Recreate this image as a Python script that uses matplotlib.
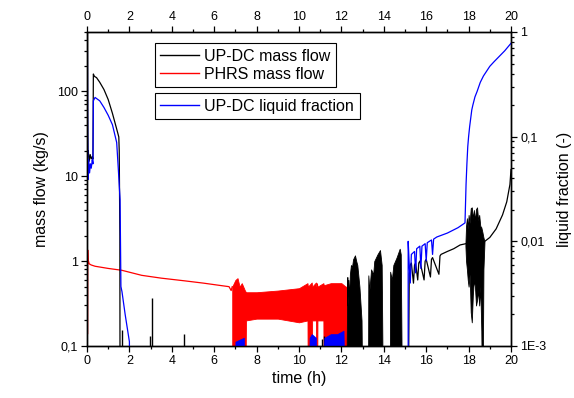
import numpy as np
import matplotlib
matplotlib.use("Agg")
import matplotlib.pyplot as plt
from matplotlib.ticker import LogLocator, NullFormatter, FixedLocator, MultipleLocator

plt.rcParams['font.family'] = ['Liberation Sans', 'DejaVu Sans']

FLOOR = 0.01      # below the left axis limit (values shown as "zero")
FLOOR_R = 1e-4    # below the right axis limit

# UP-DC mass flow (kg/s), main line
updc_t = [0.025, 0.03, 0.045, 0.06, 0.1, 0.15, 0.2, 0.25, 0.28, 0.3, 0.35, 0.45, 0.6, 0.8,
          1.0, 1.2, 1.4, 1.5, 1.52, 1.55, 1.56, 15.15, 15.2, 15.25, 15.3, 15.4, 15.45, 15.5,
          15.6, 15.65, 15.7, 15.9, 15.95, 16.0, 16.2, 16.25, 16.3, 16.6, 16.65, 16.7, 17.0,
          17.3, 17.6, 17.85]
updc_m = [500, 60, 17, 20, 15, 18, 16, 17, 16, 160, 150, 145, 128, 105,
          80, 55, 36, 29, 20, 2, FLOOR, FLOOR, 0.7, 0.9, 0.95, 0.55, 0.9, 0.95,
          0.6, 0.95, 1.0, 0.6, 1.0, 1.05, 0.65, 1.05, 1.1, 0.7, 1.15, 1.2, 1.3,
          1.4, 1.55, 1.6]

# UP-DC mass flow, after the last oscillation
updc_t2 = [18.75, 19.0, 19.3, 19.6, 19.8, 19.95, 20.0]
updc_m2 = [1.7, 1.9, 2.4, 3.5, 5.0, 8.0, 12.0]

# isolated UP-DC spikes
spike_t = [1.64, 2.98, 3.07, 4.58, 11.1, 11.2]
spike_m = [0.155, 0.13, 0.37, 0.14, 0.12, 0.13]

# UP-DC oscillating bursts (envelopes)
burst_t = [12.25, 12.28, 12.3, 12.33, 12.36, 12.4, 12.45, 12.5, 12.55, 12.64, 12.7, 12.75,
           12.85, 12.95, 13.0,
           13.25, 13.27, 13.32, 13.4, 13.5, 13.55, 13.7, 13.82, 13.9, 13.97,
           14.28, 14.3, 14.38, 14.45, 14.6, 14.75, 14.8, 14.87]
burst_hi = [0.1, 0.65, 0.3, 0.6, 0.35, 0.7, 0.9, 0.85, 1.05, 1.17, 1.0, 0.9,
            0.5, 0.2, FLOOR,
            FLOOR, 0.68, 0.45, 0.8, 0.7, 1.0, 1.2, 1.35, 0.9, FLOOR,
            FLOOR, 0.75, 0.6, 0.9, 1.1, 1.4, 1.2, FLOOR]

osc_t = [17.85, 17.88, 17.92, 17.96, 18.0, 18.05, 18.1, 18.15, 18.2, 18.25, 18.3, 18.35,
         18.4, 18.45, 18.5, 18.55, 18.6, 18.65, 18.7, 18.75]
osc_hi = [1.6, 2.6, 3.2, 2.4, 3.5, 2.8, 4.2, 4.3, 3.2, 4.0, 3.0, 4.1,
          4.3, 3.0, 3.5, 2.6, 2.5, 2.2, 1.9, 1.7]
osc_lo = [1.5, 1.0, 0.8, 0.6, 0.5, 0.7, 0.25, 0.19, 0.4, 0.6, 0.5, 0.3,
          0.35, 0.45, 0.3, 0.5, 0.15, FLOOR, 0.8, 1.7]

# PHRS mass flow (kg/s)
phrs_t = [0.03, 0.035, 0.05, 0.07, 0.1, 0.2, 0.38, 1.0, 1.64, 2.58, 3.5, 4.62, 5.5,
          6.2, 6.7, 6.8, 6.85]
phrs_m = [0.14, 1.35, 0.95, 1.0, 0.93, 0.9, 0.87, 0.82, 0.78, 0.68, 0.63, 0.585, 0.55,
          0.52, 0.5, 0.45, 0.5]

# PHRS oscillating band (envelopes)
band_t = [6.85, 7.0, 7.1, 7.2, 7.3, 7.45, 7.5, 8.0, 9.0, 10.0, 10.4, 10.42, 10.6, 10.62,
          10.8, 10.82, 10.85, 10.87, 11.15, 11.17, 11.5, 12.0, 12.2, 12.25]
band_hi = [0.5, 0.6, 0.63, 0.5, 0.55, 0.45, 0.43, 0.43, 0.45, 0.48, 0.55, 0.5, 0.56, 0.5,
           0.56, 0.5, 0.55, 0.5, 0.55, 0.52, 0.55, 0.55, 0.5, 0.5]
band_lo = [FLOOR, FLOOR, FLOOR, FLOOR, FLOOR, FLOOR, 0.2, 0.21, 0.21, 0.19, 0.2, FLOOR, FLOOR, 0.2,
           0.2, FLOOR, FLOOR, 0.2, 0.2, FLOOR, FLOOR, FLOOR, FLOOR, FLOOR]

# UP-DC liquid fraction (-)
frac_t = [0.02, 0.03, 0.05, 0.08, 0.12, 0.16, 0.2, 0.25, 0.28, 0.3, 0.38, 0.6, 0.8, 1.0,
          1.2, 1.4, 1.48, 1.56, 1.6, 1.65, 1.8, 2.0, 2.03, 15.15, 15.15, 15.2, 15.25,
          15.3, 15.45, 15.5, 15.55, 15.7, 15.75, 15.8, 15.95, 16.0, 16.05, 16.25, 16.3,
          16.35, 16.5, 17.0, 17.5, 17.83, 17.86, 17.88, 17.92, 17.96, 18.0, 18.05, 18.1,
          18.15, 18.2, 18.3, 18.4, 18.55, 18.7, 19.0, 19.2, 19.5, 19.7, 20.0]
frac_v = [0.66, 0.1, 0.039, 0.06, 0.045, 0.055, 0.05, 0.06, 0.055, 0.22, 0.237, 0.22, 0.19, 0.16,
          0.13, 0.088, 0.048, 0.025, 0.0037, 0.0033, 0.002, 0.0011, FLOOR_R, FLOOR_R, 0.01, 0.006, 0.004,
          0.0075, 0.008, 0.005, 0.0085, 0.009, 0.0055, 0.009, 0.0095, 0.0065, 0.0097, 0.0103, 0.0075,
          0.0105, 0.011, 0.012, 0.0135, 0.015, 0.025, 0.035, 0.055, 0.08, 0.1, 0.125, 0.15,
          0.18, 0.2, 0.24, 0.27, 0.33, 0.38, 0.47, 0.52, 0.6, 0.66, 0.78]

# small liquid fraction blips during PHRS oscillation
blip_t = [6.95, 7.0, 7.2, 7.4, 7.5, 10.4, 10.5, 10.6, 10.8, 10.85, 11.2, 11.5, 11.8, 12.1, 12.2]
blip_v = [FLOOR_R, 0.0011, 0.00115, 0.0012, FLOOR_R, FLOOR_R, 0.0012, 0.0013, 0.0012, FLOOR_R,
          0.0012, 0.0013, 0.0013, 0.0014, FLOOR_R]

left_ticks = [0.1, 1, 10, 100]
left_labels = ['0,1', '1', '10', '100']
right_ticks = [1e-3, 1e-2, 0.1, 1]
right_labels = ['1E-3', '0,01', '0,1', '1']

fig = plt.figure(figsize=(5.74, 3.98), dpi=100)
ax = fig.add_axes([87 / 574, 1 - 346 / 398, 424 / 574, 314 / 398])
ax2 = ax.twinx()

# mass flows
ax.plot(phrs_t, phrs_m, color='red', lw=0.9)
ax.fill_between(band_t, band_lo, band_hi, color='red', lw=0.6)
ax.plot(updc_t, updc_m, color='black', lw=0.9)
ax.plot(updc_t2, updc_m2, color='black', lw=0.9)
ax.vlines(spike_t, FLOOR, spike_m, color='black', lw=1.0)
ax.fill_between(burst_t, FLOOR, burst_hi, color='black', lw=0.6)
ax.fill_between(osc_t, osc_lo, osc_hi, color='black', lw=0.6)

# liquid fraction
ax2.plot(frac_t, frac_v, color='blue', lw=0.9)
ax2.fill_between(blip_t, FLOOR_R, blip_v, color='blue', lw=0.5)

ax.set_yscale('log')
ax2.set_yscale('log')
ax.set_xlim(0, 20)
ax.set_ylim(0.1, 500)
ax2.set_ylim(1e-3, 1)

ax.xaxis.set_major_locator(MultipleLocator(2))
ax.xaxis.set_minor_locator(MultipleLocator(1))
ax.yaxis.set_major_locator(FixedLocator(left_ticks))
ax.set_yticklabels(left_labels)
ax.yaxis.set_minor_locator(LogLocator(subs=range(2, 10), numticks=20))
ax.yaxis.set_minor_formatter(NullFormatter())
ax2.yaxis.set_major_locator(FixedLocator(right_ticks))
ax2.set_yticklabels(right_labels)
ax2.yaxis.set_minor_locator(LogLocator(subs=range(2, 10), numticks=20))
ax2.yaxis.set_minor_formatter(NullFormatter())

ax.tick_params(which='both', direction='out', top=True, labeltop=True, width=0.9,
               labelsize=9, colors='black', pad=2)
ax.tick_params(which='major', length=4.5)
ax.tick_params(which='minor', length=2.5)
ax2.tick_params(which='both', direction='out', width=0.9, labelsize=9, pad=2)
ax2.tick_params(which='major', length=4.5)
ax2.tick_params(which='minor', length=2.5)
for a in (ax, ax2):
    for s in a.spines.values():
        s.set_linewidth(1.0)

ax.set_xlabel('time (h)', fontsize=11.5, labelpad=3)
ax.set_ylabel('mass flow (kg/s)', fontsize=11.5, labelpad=6)
ax2.set_ylabel('liquid fraction (-)', fontsize=11.5, labelpad=8)

h1 = ax.plot([], [], color='black', lw=1.0, label='UP-DC mass flow')[0]
h2 = ax.plot([], [], color='red', lw=1.0, label='PHRS mass flow')[0]
h3 = ax2.plot([], [], color='blue', lw=1.0, label='UP-DC liquid fraction')[0]

leg1 = ax2.legend(handles=[h1, h2], loc='upper left', bbox_to_anchor=(0.160, 0.965),
                  borderaxespad=0, fontsize=11.5, frameon=True, fancybox=False,
                  edgecolor='black', framealpha=1, handlelength=2.4, handletextpad=0.35,
                  borderpad=0.35, labelspacing=0.2)
leg1.get_frame().set_linewidth(0.8)
ax2.add_artist(leg1)
leg2 = ax2.legend(handles=[h3], loc='upper left', bbox_to_anchor=(0.160, 0.806),
                  borderaxespad=0, fontsize=11.5, frameon=True, fancybox=False,
                  edgecolor='black', framealpha=1, handlelength=2.4, handletextpad=0.35,
                  borderpad=0.35)
leg2.get_frame().set_linewidth(0.8)

fig.savefig('out.png', dpi=100)
